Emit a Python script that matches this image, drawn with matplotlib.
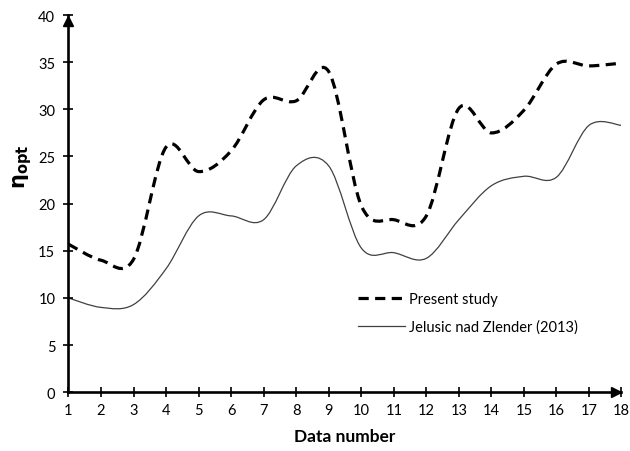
import matplotlib
matplotlib.use("Agg")
import matplotlib.pyplot as plt
from matplotlib.path import Path
from matplotlib.patches import PathPatch
from matplotlib.lines import Line2D

plt.rcParams["font.family"] = ["Lato", "DejaVu Sans"]

DATA_NUMBER = list(range(1, 19))
PRESENT_STUDY = [15.7, 14.0, 14.1, 26.0, 23.4, 25.6, 31.0, 30.9, 34.0,
                 19.8, 18.3, 18.7, 30.1, 27.5, 29.9, 34.8, 34.6, 34.9]
JELUSIC_ZLENDER = [10.0, 9.0, 9.3, 13.1, 18.7, 18.7, 18.3, 24.0, 24.0,
                   15.3, 14.8, 14.2, 18.3, 21.9, 22.9, 22.8, 28.3, 28.3]
LEGEND_LABELS = ["Present study", "Jelusic nad Zlender (2013)"]


def smooth_path(x, y, tension=1.0 / 6.0):
    # Excel-style smoothed line: cubic Bezier segments through the data points
    verts = [(x[0], y[0])]
    codes = [Path.MOVETO]
    n = len(x)
    for i in range(n - 1):
        x0, y0 = x[max(i - 1, 0)], y[max(i - 1, 0)]
        x1, y1 = x[i], y[i]
        x2, y2 = x[i + 1], y[i + 1]
        x3, y3 = x[min(i + 2, n - 1)], y[min(i + 2, n - 1)]
        c1 = (x1 + (x2 - x0) * tension, y1 + (y2 - y0) * tension)
        c2 = (x2 - (x3 - x1) * tension, y2 - (y3 - y1) * tension)
        verts += [c1, c2, (x2, y2)]
        codes += [Path.CURVE4, Path.CURVE4, Path.CURVE4]
    return Path(verts, codes)


fig = plt.figure(figsize=(6.3, 4.52), dpi=100)
ax = fig.add_axes([0.1087, 0.1299, 0.8778, 0.8347])

dashed_style = dict(color="black", linewidth=2.3, linestyle=(0, (3.2, 2.0)))
solid_style = dict(color="#404040", linewidth=0.9, linestyle="-")

ax.add_patch(PathPatch(smooth_path(DATA_NUMBER, PRESENT_STUDY), fill=False,
                       capstyle="butt", **dashed_style))
ax.add_patch(PathPatch(smooth_path(DATA_NUMBER, JELUSIC_ZLENDER), fill=False,
                       **solid_style))

ax.set_xlim(1, 18)
ax.set_ylim(0, 40)
ax.set_xticks(DATA_NUMBER)
ax.set_yticks(range(0, 41, 5))

for side in ["top", "right"]:
    ax.spines[side].set_visible(False)
for side in ["left", "bottom"]:
    ax.spines[side].set_linewidth(1.9)

ax.tick_params(axis="both", direction="inout", length=7, width=1.2,
               labelsize=10.5, colors="black")
ax.tick_params(axis="y", pad=6)
ax.tick_params(axis="x", pad=4)

# arrow heads on the axes
ax.plot(0.99, 0, ">", color="black", markersize=7, transform=ax.get_yaxis_transform(),
        clip_on=False)
ax.plot(1, 0.985, "^", color="black", markersize=7, transform=ax.get_xaxis_transform(),
        clip_on=False)

ax.set_xlabel("Data number", fontsize=12.5, fontweight="bold", labelpad=8)
ax.set_ylabel(r"$\mathbf{\eta_{opt}}$", fontsize=15)
ax.yaxis.set_label_coords(-0.062, 0.6)

handles = [Line2D([], [], **dashed_style), Line2D([], [], **solid_style)]
ax.legend(handles, LEGEND_LABELS, loc="upper left", bbox_to_anchor=(0.50, 0.30),
          frameon=False, fontsize=10.5, handlelength=3.2, handletextpad=0.3,
          labelspacing=0.9)

fig.savefig("out.png", dpi=100)
